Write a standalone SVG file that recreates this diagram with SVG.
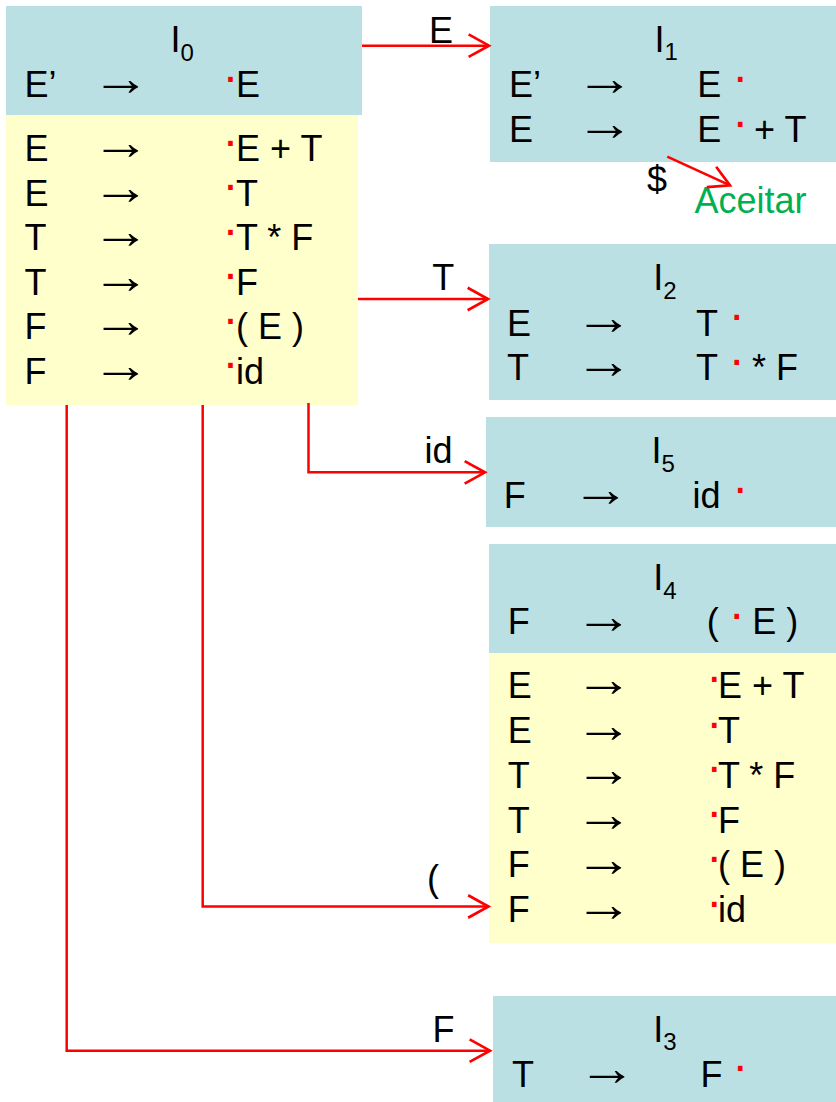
<svg xmlns="http://www.w3.org/2000/svg" width="836" height="1102" viewBox="0 0 836 1102">
<style>
.t{font-family:"Liberation Sans",Arial,sans-serif;font-size:36px;fill:#000}
.ar{font-family:"Liberation Sans",Arial,sans-serif;font-size:50px;fill:#000}
.dot{font-family:"Liberation Sans",Arial,sans-serif;font-size:48px;fill:#FF0000}
.blue{fill:#BBE0E3}
.yel{fill:#FFFFCC}
.conn{stroke:#FF0000;stroke-width:2.5;fill:none}
.acc{fill:#00B050}
</style>
<defs>
<marker id="ah" markerUnits="userSpaceOnUse" markerWidth="30" markerHeight="30" viewBox="-24 -14 28 28" refX="0" refY="0" orient="auto" overflow="visible">
<path d="M-19,-10.5 L0,0 L-19,10.5" fill="none" stroke="#FF0000" stroke-width="2.5"/>
</marker>
</defs>
<rect width="836" height="1102" fill="#FFFFFF"/>

<g id="I0">
<rect class="blue" x="6" y="6" width="356" height="109"/>
<rect class="yel" x="6" y="115" width="352" height="290"/>
<text class="t" x="170.6" y="52">I<tspan dy="8.5" font-size="24">0</tspan></text>
<text class="t" x="24.5" y="97">E’</text><text class="ar" x="91.7" y="95.3" textLength="58.5" lengthAdjust="spacingAndGlyphs">→</text><text class="dot" x="222.5" y="92.5">·</text><text class="t" x="236" y="97">E</text>
<text class="t" x="24.5" y="161">E</text><text class="ar" x="91.7" y="159.3" textLength="58.5" lengthAdjust="spacingAndGlyphs">→</text><text class="dot" x="222.5" y="156.5">·</text><text class="t" x="236" y="161">E + T</text>
<text class="t" x="24.5" y="205.5">E</text><text class="ar" x="91.7" y="203.8" textLength="58.5" lengthAdjust="spacingAndGlyphs">→</text><text class="dot" x="222.5" y="201">·</text><text class="t" x="236" y="205.5">T</text>
<text class="t" x="24.5" y="250">T</text><text class="ar" x="91.7" y="248.3" textLength="58.5" lengthAdjust="spacingAndGlyphs">→</text><text class="dot" x="222.5" y="245.5">·</text><text class="t" x="236" y="250">T * F</text>
<text class="t" x="24.5" y="294.5">T</text><text class="ar" x="91.7" y="292.8" textLength="58.5" lengthAdjust="spacingAndGlyphs">→</text><text class="dot" x="222.5" y="290">·</text><text class="t" x="236" y="294.5">F</text>
<text class="t" x="24.5" y="339">F</text><text class="ar" x="91.7" y="337.3" textLength="58.5" lengthAdjust="spacingAndGlyphs">→</text><text class="dot" x="222.5" y="334.5">·</text><text class="t" x="236" y="339">( E )</text>
<text class="t" x="24.5" y="383.5">F</text><text class="ar" x="91.7" y="381.8" textLength="58.5" lengthAdjust="spacingAndGlyphs">→</text><text class="dot" x="222.5" y="379">·</text><text class="t" x="236" y="383.5">id</text>
</g>

<g id="I1">
<rect class="blue" x="490" y="6" width="346" height="156"/>
<text class="t" x="654.6" y="52">I<tspan dy="8" font-size="24">1</tspan></text>
<text class="t" x="509" y="97">E’</text><text class="ar" x="575.7" y="95.3" textLength="58.5" lengthAdjust="spacingAndGlyphs">→</text><text class="t" x="697.2" y="97">E</text><text class="dot" x="732.2" y="92.5">·</text>
<text class="t" x="509" y="142">E</text><text class="ar" x="575.7" y="140.3" textLength="58.5" lengthAdjust="spacingAndGlyphs">→</text><text class="t" x="697.2" y="142">E</text><text class="dot" x="732.2" y="137.5">·</text><text class="t" x="754" y="142">+ T</text>
</g>

<g id="I2">
<rect class="blue" x="489" y="244" width="347" height="156"/>
<text class="t" x="653.3" y="290">I<tspan dy="9" font-size="24">2</tspan></text>
<text class="t" x="507" y="335.7">E</text><text class="ar" x="574.7" y="334" textLength="58.5" lengthAdjust="spacingAndGlyphs">→</text><text class="t" x="696" y="335.7">T</text><text class="dot" x="728.8" y="331.2">·</text>
<text class="t" x="507" y="380">T</text><text class="ar" x="574.7" y="378.3" textLength="58.5" lengthAdjust="spacingAndGlyphs">→</text><text class="t" x="696" y="380">T</text><text class="dot" x="728.8" y="375.5">·</text><text class="t" x="752" y="380">* F</text>
</g>

<g id="I5">
<rect class="blue" x="486" y="417" width="350" height="110"/>
<text class="t" x="651.6" y="463">I<tspan dy="9" font-size="24">5</tspan></text>
<text class="t" x="503.8" y="508">F</text><text class="ar" x="571.7" y="506.3" textLength="58.5" lengthAdjust="spacingAndGlyphs">→</text><text class="t" x="692.6" y="508">id</text><text class="dot" x="732.2" y="503.5">·</text>
</g>

<g id="I4">
<rect class="blue" x="489" y="544" width="347" height="109"/>
<rect class="yel" x="489" y="653" width="347" height="290"/>
<text class="t" x="653.3" y="590">I<tspan dy="9" font-size="24">4</tspan></text>
<text class="t" x="507.8" y="634.3">F</text><text class="ar" x="574.7" y="632.6" textLength="58.5" lengthAdjust="spacingAndGlyphs">→</text><text class="t" x="706.8" y="634.3">(</text><text class="dot" x="728.8" y="629.8">·</text><text class="t" x="752.2" y="634.3">E )</text>
<text class="t" x="507.8" y="697.7">E</text><text class="ar" x="574.7" y="696" textLength="58.5" lengthAdjust="spacingAndGlyphs">→</text><text class="dot" x="706.2" y="693.2">·</text><text class="t" x="718" y="697.7">E + T</text>
<text class="t" x="507.8" y="743.3">E</text><text class="ar" x="574.7" y="741.6" textLength="58.5" lengthAdjust="spacingAndGlyphs">→</text><text class="dot" x="706.2" y="738.8">·</text><text class="t" x="718" y="743.3">T</text>
<text class="t" x="507.8" y="787.7">T</text><text class="ar" x="574.7" y="786" textLength="58.5" lengthAdjust="spacingAndGlyphs">→</text><text class="dot" x="706.2" y="783.2">·</text><text class="t" x="718" y="787.7">T * F</text>
<text class="t" x="507.8" y="832.7">T</text><text class="ar" x="574.7" y="831" textLength="58.5" lengthAdjust="spacingAndGlyphs">→</text><text class="dot" x="706.2" y="828.2">·</text><text class="t" x="718" y="832.7">F</text>
<text class="t" x="507.8" y="877.3">F</text><text class="ar" x="574.7" y="875.6" textLength="58.5" lengthAdjust="spacingAndGlyphs">→</text><text class="dot" x="706.2" y="872.8">·</text><text class="t" x="718" y="877.3">( E )</text>
<text class="t" x="507.8" y="922.3">F</text><text class="ar" x="574.7" y="920.6" textLength="58.5" lengthAdjust="spacingAndGlyphs">→</text><text class="dot" x="706.2" y="917.8">·</text><text class="t" x="718" y="922.3">id</text>
</g>

<g id="I3">
<rect class="blue" x="493" y="996" width="343" height="106"/>
<text class="t" x="653.3" y="1042.3">I<tspan dy="8" font-size="24">3</tspan></text>
<text class="t" x="511.9" y="1086.7">T</text><text class="ar" x="578" y="1085" textLength="58.5" lengthAdjust="spacingAndGlyphs">→</text><text class="t" x="700.4" y="1086.7">F</text><text class="dot" x="732.2" y="1082.2">·</text>
</g>

<g id="accept">
<text class="t acc" x="694.5" y="213.3">Aceitar</text>
</g>

<g id="connectors">
<line class="conn" x1="362" y1="45.7" x2="489" y2="45.7" marker-end="url(#ah)"/>
<line class="conn" x1="667.3" y1="156.7" x2="730" y2="185.4" marker-end="url(#ah)"/>
<line class="conn" x1="358" y1="299" x2="488" y2="299" marker-end="url(#ah)"/>
<path class="conn" d="M308.5,403 V472.3 H485" marker-end="url(#ah)"/>
<path class="conn" d="M202.7,405 V906.5 H488.5" marker-end="url(#ah)"/>
<path class="conn" d="M66.7,405 V1050.7 H490" marker-end="url(#ah)"/>
<text class="t" x="428.9" y="43.3">E</text>
<text class="t" x="647" y="192">$</text>
<text class="t" x="432.2" y="290">T</text>
<text class="t" x="424.6" y="462.7">id</text>
<text class="t" x="427" y="891">(</text>
<text class="t" x="432.5" y="1041.7">F</text>
</g>
</svg>
